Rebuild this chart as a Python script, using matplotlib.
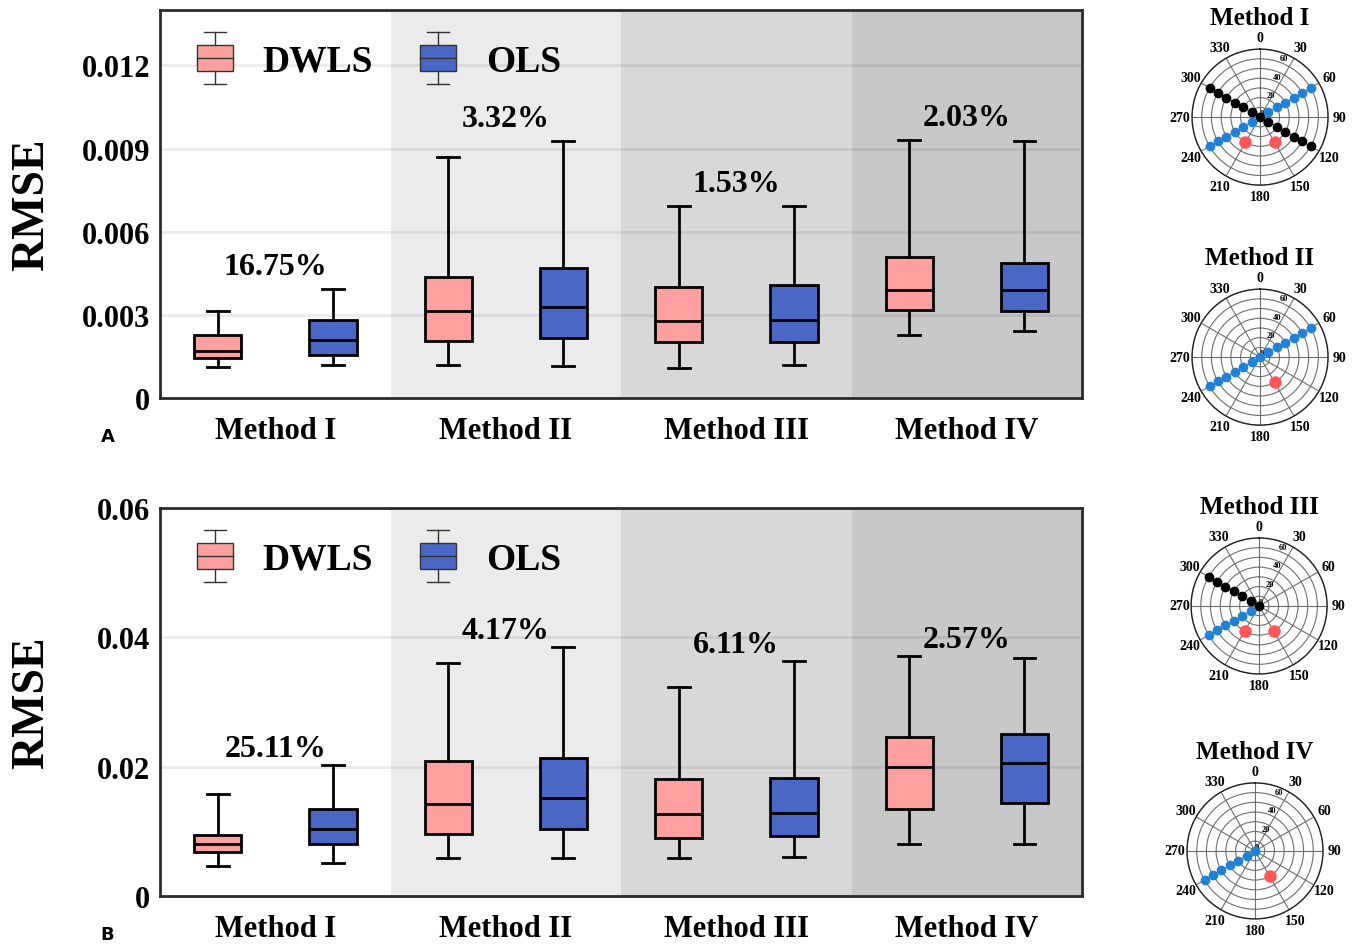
import matplotlib
matplotlib.use("Agg")
import matplotlib.pyplot as plt
import numpy as np
from matplotlib.legend_handler import HandlerBase
from matplotlib.patches import Rectangle, Patch
from matplotlib.lines import Line2D

plt.rcParams['font.family'] = ['Liberation Serif', 'DejaVu Serif']
plt.rcParams['font.weight'] = 'bold'

# ---------------- data ----------------
methods = ["Method I", "Method II", "Method III", "Method IV"]
series = ["DWLS", "OLS"]

# Panel A: RMSE box statistics (whisker low, Q1, median, Q3, whisker high)
a_dwls_low = [0.00112, 0.00119, 0.00108, 0.00228]
a_dwls_q1 = [0.00145, 0.00206, 0.00202, 0.00318]
a_dwls_med = [0.00170, 0.00314, 0.00278, 0.00390]
a_dwls_q3 = [0.00228, 0.00437, 0.00401, 0.00510]
a_dwls_high = [0.00314, 0.00871, 0.00694, 0.00932]

a_ols_low = [0.00119, 0.00116, 0.00119, 0.00242]
a_ols_q1 = [0.00155, 0.00217, 0.00202, 0.00314]
a_ols_med = [0.00210, 0.00329, 0.00282, 0.00390]
a_ols_q3 = [0.00282, 0.00470, 0.00408, 0.00488]
a_ols_high = [0.00394, 0.00929, 0.00694, 0.00929]

a_pct = ["16.75%", "3.32%", "1.53%", "2.03%"]
a_yticks = [0, 0.003, 0.006, 0.009, 0.012]
a_yticklabels = ["0", "0.003", "0.006", "0.009", "0.012"]
a_ymax = 0.014

# Panel B
b_dwls_low = [0.00465, 0.00589, 0.00589, 0.00806]
b_dwls_q1 = [0.00682, 0.00961, 0.00899, 0.01349]
b_dwls_med = [0.00806, 0.01426, 0.01271, 0.02000]
b_dwls_q3 = [0.00946, 0.02093, 0.01814, 0.02465]
b_dwls_high = [0.01580, 0.03610, 0.03225, 0.03705]

b_ols_low = [0.00512, 0.00589, 0.00605, 0.00806]
b_ols_q1 = [0.00806, 0.01039, 0.00930, 0.01442]
b_ols_med = [0.01039, 0.01520, 0.01287, 0.02062]
b_ols_q3 = [0.01349, 0.02140, 0.01830, 0.02512]
b_ols_high = [0.02030, 0.03845, 0.03628, 0.03674]

b_pct = ["25.11%", "4.17%", "6.11%", "2.57%"]
b_yticks = [0, 0.02, 0.04, 0.06]
b_yticklabels = ["0", "0.02", "0.04", "0.06"]
b_ymax = 0.06

# Polar layouts: (angle in degrees, radius)
p1_black_theta = [300, 300, 300, 300, 300, 300, 0, 120, 120, 120, 120, 120, 120]
p1_black_r = [60, 50, 40, 30, 20, 10, 0, 10, 20, 30, 40, 50, 60]
p1_blue_theta = [240, 240, 240, 240, 240, 240, 60, 60, 60, 60, 60, 60]
p1_blue_r = [60, 50, 40, 30, 20, 10, 10, 20, 30, 40, 50, 60]
p1_red_theta = [150, 210]
p1_red_r = [30, 30]

p2_black_theta = []
p2_black_r = []
p2_blue_theta = [240, 240, 240, 240, 240, 240, 0, 60, 60, 60, 60, 60, 60]
p2_blue_r = [60, 50, 40, 30, 20, 10, 0, 10, 20, 30, 40, 50, 60]
p2_red_theta = [150]
p2_red_r = [30]

p3_black_theta = [300, 300, 300, 300, 300, 300, 0]
p3_black_r = [60, 50, 40, 30, 20, 10, 0]
p3_blue_theta = [240, 240, 240, 240, 240, 240]
p3_blue_r = [60, 50, 40, 30, 20, 10]
p3_red_theta = [150, 210]
p3_red_r = [30, 30]

p4_black_theta = []
p4_black_r = []
p4_blue_theta = [240, 240, 240, 240, 240, 240, 0]
p4_blue_r = [60, 50, 40, 30, 20, 10, 0]
p4_red_theta = [150]
p4_red_r = [30]

# ---------------- style ----------------
DWLS_COLOR = "#ffa0a0"
OLS_COLOR = "#4a67c6"
BAND_COLORS = ["#ffffff", "#ebebeb", "#d8d8d8", "#c8c8c8"]
SPINE_COLOR = "#2b2b2b"
DOT_BLUE = "#1f82d6"
DOT_RED = "#ff5757"


class BoxHandler(HandlerBase):
    """Legend glyph drawn as a miniature box-and-whisker."""

    def create_artists(self, legend, orig_handle, xdescent, ydescent,
                       width, height, fontsize, trans):
        x0, y0 = -xdescent, -ydescent
        fc = orig_handle.get_facecolor()
        lc = "#333333"
        box = Rectangle((x0, y0), width, height, facecolor=fc,
                        edgecolor=lc, lw=1.0, transform=trans)
        xm = x0 + width / 2
        ext = 0.48 * height
        cw = 0.3 * width
        arts = [box,
                Line2D([x0, x0 + width], [y0 + height / 2] * 2, color=lc, lw=1.0, transform=trans),
                Line2D([xm, xm], [y0 + height, y0 + height + ext], color=lc, lw=1.0, transform=trans),
                Line2D([xm, xm], [y0, y0 - ext], color=lc, lw=1.0, transform=trans),
                Line2D([xm - cw, xm + cw], [y0 + height + ext] * 2, color=lc, lw=1.0, transform=trans),
                Line2D([xm - cw, xm + cw], [y0 - ext] * 2, color=lc, lw=1.0, transform=trans)]
        return arts


def make_stats(low, q1, med, q3, high):
    return [dict(whislo=lo, q1=a, med=m, q3=b, whishi=hi, fliers=[])
            for lo, a, m, b, hi in zip(low, q1, med, q3, high)]


def draw_panel(ax, dwls, ols, pct, yticks, yticklabels, ymax, pct_offset):
    n = len(methods)
    centers = np.arange(n)
    for i in range(n):
        ax.axvspan(i - 0.5, i + 0.5, color=BAND_COLORS[i], zorder=0, lw=0)
    for yt in yticks:
        ax.axhline(yt, color="black", alpha=0.08, lw=2.0, zorder=0.5)

    props = dict(color="black", lw=2.0)
    for stats, off, col in ((dwls, -0.25, DWLS_COLOR), (ols, 0.25, OLS_COLOR)):
        ax.bxp(stats, positions=centers + off, widths=0.205, capwidths=0.095,
               patch_artist=True, showfliers=False,
               boxprops=dict(facecolor=col, edgecolor="black", lw=2.0),
               medianprops=props, whiskerprops=props, capprops=props,
               manage_ticks=False, zorder=3)

    tops = [max(d["whishi"], o["whishi"]) for d, o in zip(dwls, ols)]
    for c, t, s in zip(centers, tops, pct):
        ax.annotate(s, (c, t), xytext=(0, pct_offset), textcoords="offset points",
                    ha="center", va="center", fontsize=23, fontweight="bold", zorder=5)

    ax.set_xlim(-0.5, n - 0.5)
    ax.set_ylim(0, ymax)
    ax.set_xticks(centers)
    ax.set_xticklabels(methods, fontsize=22, fontweight="bold")
    ax.set_yticks(yticks)
    ax.set_yticklabels(yticklabels, fontsize=22, fontweight="bold")
    ax.tick_params(axis="both", length=0)
    ax.tick_params(axis="y", pad=7)
    ax.tick_params(axis="x", pad=13)
    ax.set_ylabel("RMSE", fontsize=33, fontweight="bold")
    ax.yaxis.set_label_coords(-0.116, 0.5)
    for sp in ax.spines.values():
        sp.set_color(SPINE_COLOR)
        sp.set_linewidth(2.0)
        sp.set_zorder(6)

    handles = [Patch(facecolor=DWLS_COLOR), Patch(facecolor=OLS_COLOR)]
    leg = ax.legend(handles, series, handler_map={Patch: BoxHandler()},
                    loc="upper left", bbox_to_anchor=(0.024, 0.951), ncol=2,
                    frameon=False, borderaxespad=0,
                    handlelength=0.95, handleheight=0.7, handletextpad=0.8,
                    columnspacing=1.25, prop=dict(weight="bold", size=27))
    leg.set_zorder(7)


def draw_polar(ax, title, black, blue, red):
    ax.set_theta_zero_location("N")
    ax.set_theta_direction(-1)
    ax.set_ylim(0, 70)
    ax.set_yticks([0, 10, 20, 30, 40, 50, 60, 70])
    ax.set_yticklabels(["0", "", "20", "", "40", "", "60", ""], fontsize=6, fontweight="bold")
    ax.set_rlabel_position(20)
    ax.set_xticks(np.deg2rad(np.arange(0, 360, 30)))
    ax.set_xticklabels([str(a) for a in range(0, 360, 30)], fontsize=10, fontweight="bold")
    ax.tick_params(axis="x", pad=-2)
    ax.grid(True, color="#6e6e6e", lw=0.8)
    ax.spines["polar"].set_color("#222222")
    ax.spines["polar"].set_linewidth(1.0)
    ax.set_facecolor("white")
    bt, br = black
    if bt:
        ax.plot(np.deg2rad(bt), br, "o", color="black", ms=6, zorder=4, clip_on=False)
    ut, ur = blue
    ax.plot(np.deg2rad(ut), ur, "o", color=DOT_BLUE, ms=6, zorder=4, clip_on=False)
    rt, rr = red
    ax.plot(np.deg2rad(rt), rr, "o", color=DOT_RED, ms=8, zorder=4, clip_on=False)
    ax.set_title(title, fontsize=18, fontweight="bold", pad=5)


fig = plt.figure(figsize=(13.62, 9.45), dpi=100)

ax_a = fig.add_axes([0.1175, 0.5778, 0.677, 0.4106])
ax_b = fig.add_axes([0.1175, 0.0508, 0.677, 0.4106])

draw_panel(ax_a,
           make_stats(a_dwls_low, a_dwls_q1, a_dwls_med, a_dwls_q3, a_dwls_high),
           make_stats(a_ols_low, a_ols_q1, a_ols_med, a_ols_q3, a_ols_high),
           a_pct, a_yticks, a_yticklabels, a_ymax, 16)
draw_panel(ax_b,
           make_stats(b_dwls_low, b_dwls_q1, b_dwls_med, b_dwls_q3, b_dwls_high),
           make_stats(b_ols_low, b_ols_q1, b_ols_med, b_ols_q3, b_ols_high),
           b_pct, b_yticks, b_yticklabels, b_ymax, 12)

fig.text(0.079, 0.5376, "A", fontsize=13, fontweight="bold",
         family=["DejaVu Sans"], ha="center", va="center")
fig.text(0.079, 0.0106, "B", fontsize=13, fontweight="bold",
         family=["DejaVu Sans"], ha="center", va="center")

polar_rects = [[0.8752, 0.803, 0.0999, 0.144],
               [0.8752, 0.549, 0.0999, 0.144],
               [0.8745, 0.2857, 0.0999, 0.144],
               [0.8715, 0.0265, 0.0999, 0.144]]
polar_data = [
    ((p1_black_theta, p1_black_r), (p1_blue_theta, p1_blue_r), (p1_red_theta, p1_red_r)),
    ((p2_black_theta, p2_black_r), (p2_blue_theta, p2_blue_r), (p2_red_theta, p2_red_r)),
    ((p3_black_theta, p3_black_r), (p3_blue_theta, p3_blue_r), (p3_red_theta, p3_red_r)),
    ((p4_black_theta, p4_black_r), (p4_blue_theta, p4_blue_r), (p4_red_theta, p4_red_r)),
]
for rect, name, (blk, blu, red) in zip(polar_rects, methods, polar_data):
    pax = fig.add_axes(rect, projection="polar")
    draw_polar(pax, name, blk, blu, red)

fig.savefig("out.png", dpi=100)
